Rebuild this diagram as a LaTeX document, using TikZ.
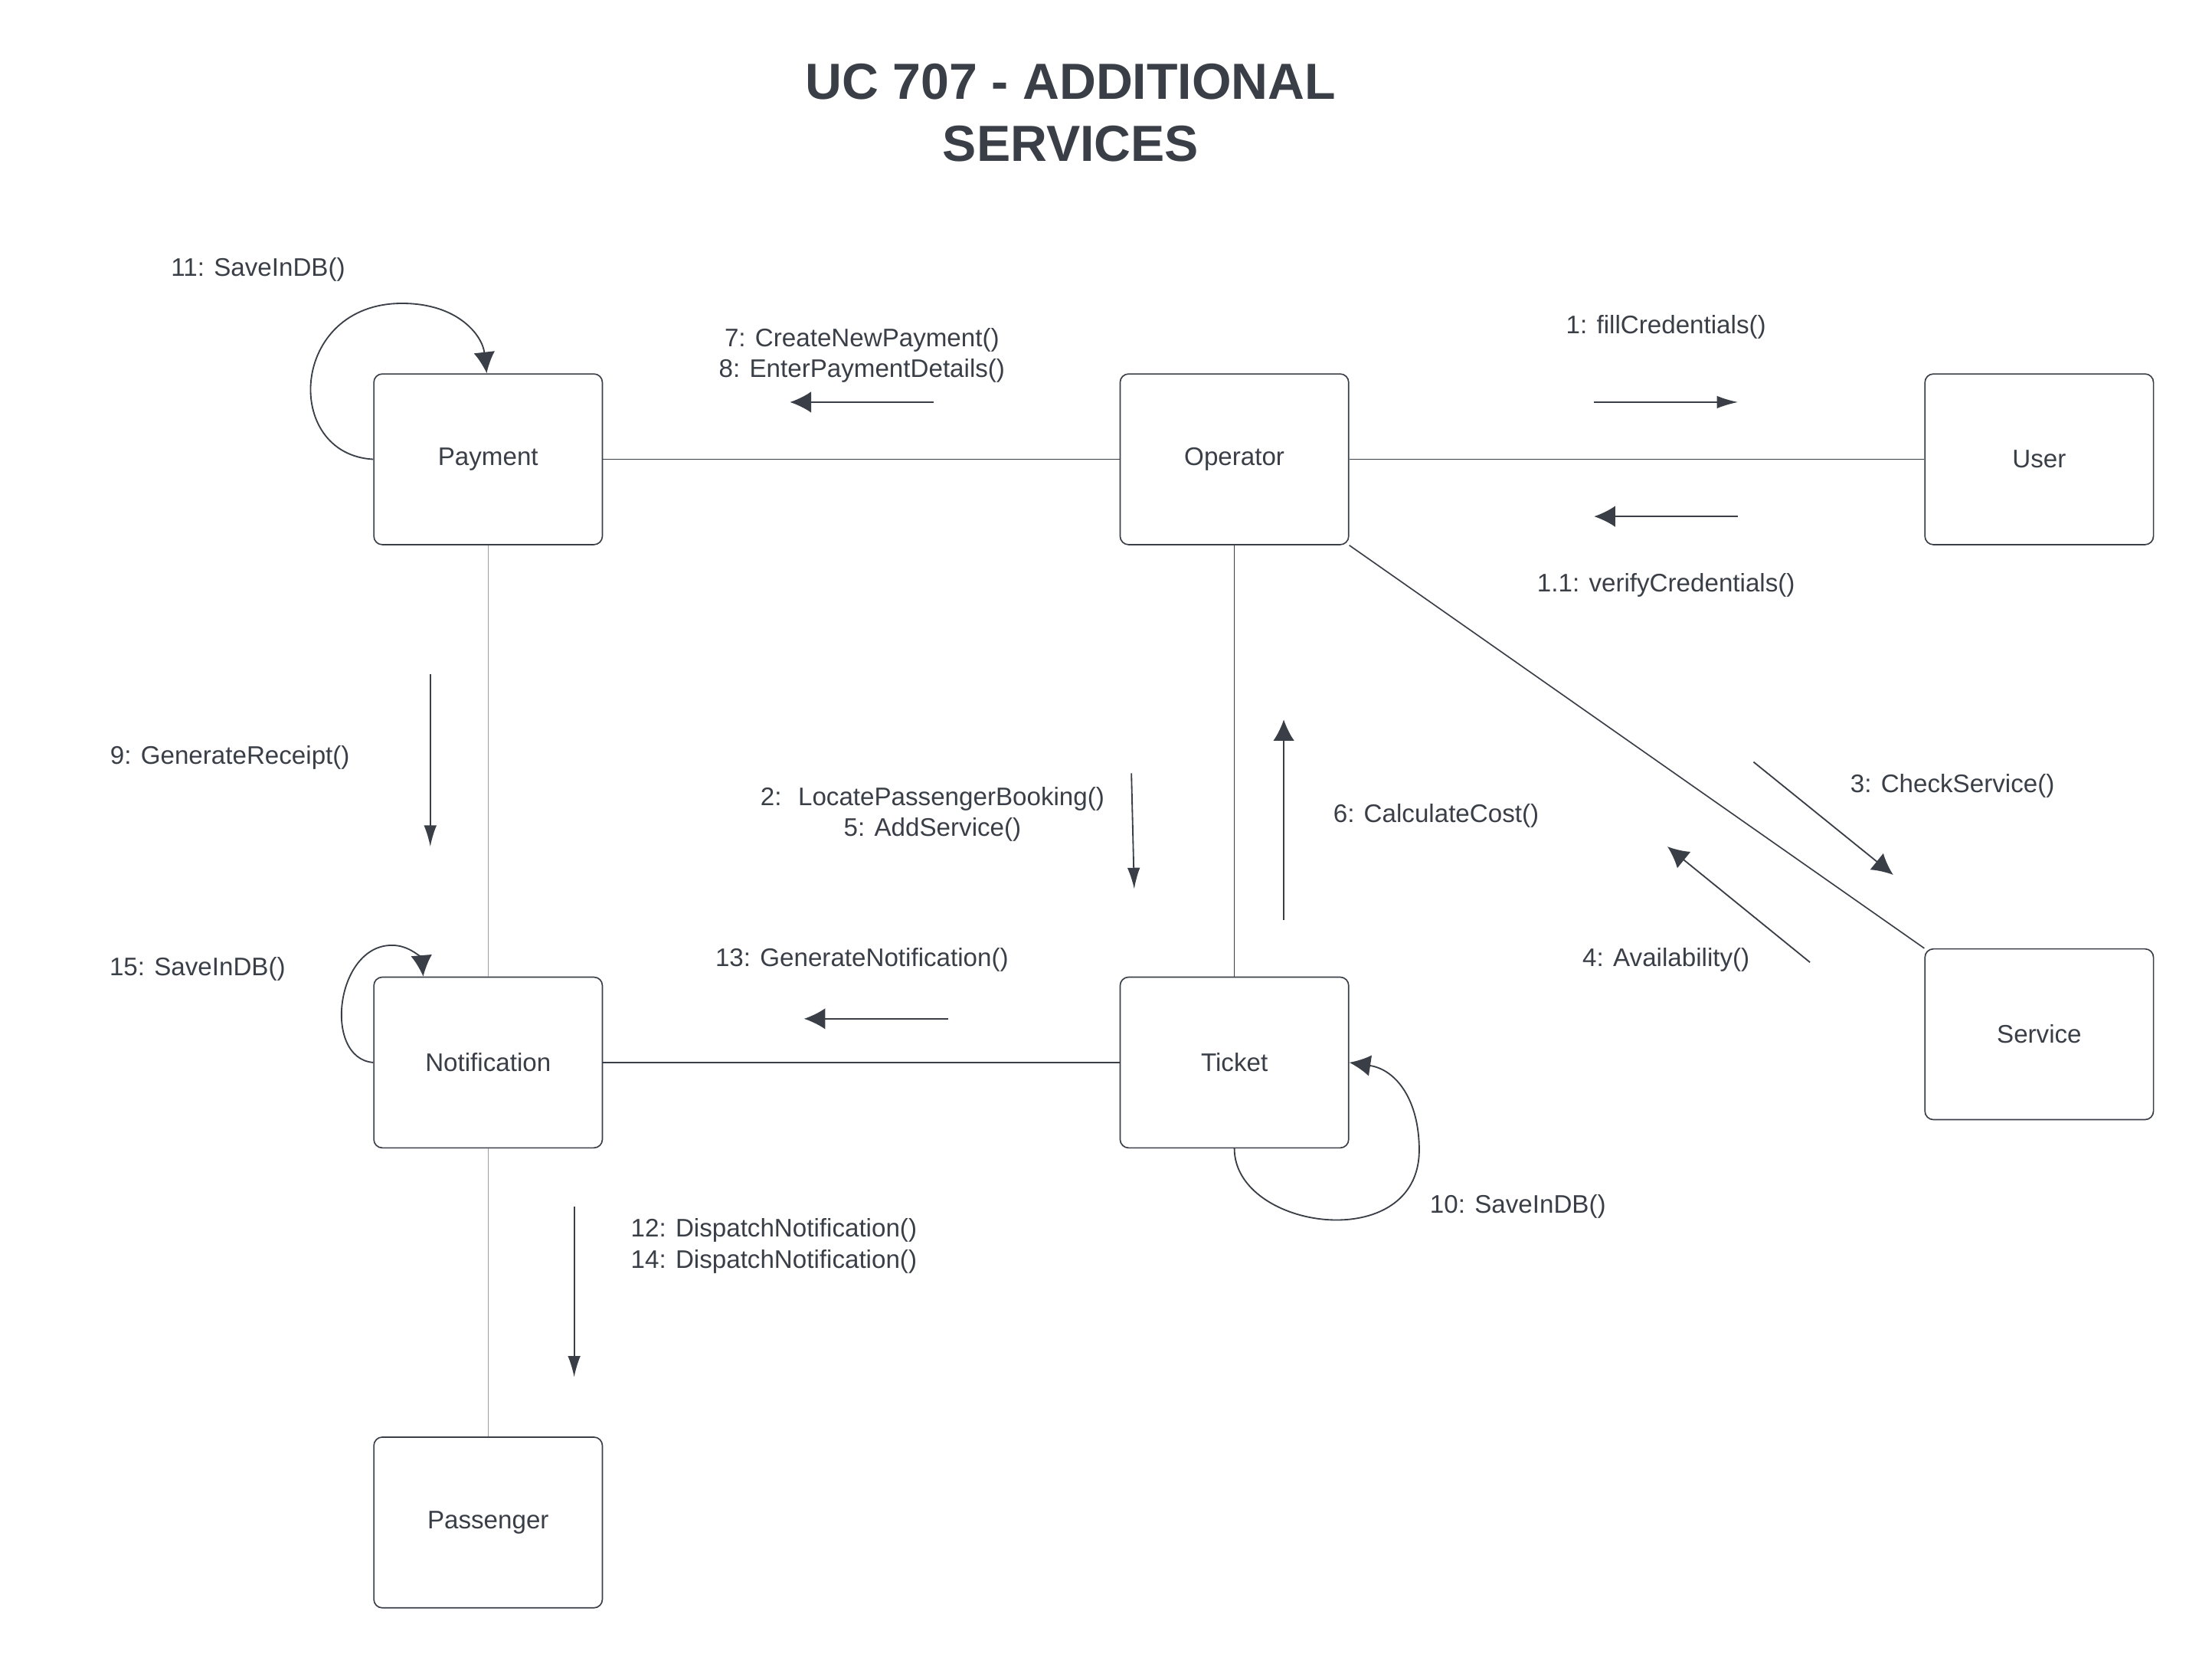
\documentclass[tikz,border=0pt]{standalone}
\usepackage{fontspec}
\setmainfont{Liberation Sans}
\usepackage{tikz}
\usetikzlibrary{shapes.geometric, arrows.meta}
\definecolor{inkgray}{HTML}{3A3F47}
\definecolor{palegray}{HTML}{9A9DA2}
\tikzstyle{object} = [rectangle, rounded corners=6pt, minimum width=162pt, minimum height=121pt, text centered, draw=inkgray, line width=0.9pt, text=inkgray, font=\fontsize{18}{22}\selectfont]
\tikzstyle{msglabel} = [text=inkgray, align=center, inner sep=0pt, font=\fontsize{18}{22}\selectfont]
\tikzstyle{link} = [draw=inkgray, line width=0.9pt]
\tikzstyle{arrow} = [draw=inkgray, line width=1pt, -{Latex[length=15pt,width=15pt]}]
\tikzstyle{thinarrow} = [draw=inkgray, line width=1pt, -{Latex[length=15pt,width=9pt]}]

\begin{document}
\begin{tikzpicture}[x=1pt, y=-1pt, node distance=529pt]
        \useasboundingbox (0,0) rectangle (1568,1181);
        \node (title) [text=inkgray, align=center, font=\fontsize{36}{44}\bfseries] at (759,80) {UC 707 - ADDITIONAL\\SERVICES};

        \node (payment) [object] at (346,325.5) {Payment};
        \node (operator) [object, right of=payment] {Operator};
        \node (user) [object, right of=operator, xshift=41.5pt] {User};
        \node (notification) [object, below of=payment, yshift=101.5pt] {Notification};
        \node (ticket) [object, right of=notification] {Ticket};
        \node (service) [object, below of=user, yshift=121.5pt] {Service};
        \node (passenger) [object, below of=notification, yshift=203pt] {Passenger};

        \draw [link] (payment) -- (operator);
        \draw [link] (operator) -- (user);
        \draw [link] (operator) -- (ticket);
        \draw [link] (notification) -- (ticket);
        \draw [link] (operator.south east) -- (service.north west);
        \draw [draw=palegray, line width=0.7pt] (payment) -- (notification);
        \draw [draw=palegray, line width=0.7pt] (notification) -- (passenger);

        % self messages
        \draw [arrow] (payment.west) .. controls (200,322) and (205,215) .. (285,215) .. controls (325,215) and (342,238) .. ([xshift=-1pt]payment.north);
        \draw [arrow] (notification.west) .. controls (228,750) and (238,667) .. (280,670) .. controls (292,671) and (299,680) .. ([xshift=-46pt]notification.north);
        \draw [arrow] (ticket.south) .. controls (875,872) and (1006,890) .. (1006,815) .. controls (1006,780) and (990,758) .. (ticket.east);

        % messages
        \draw [arrow] (662,285) -- (560,285);
        \draw [thinarrow] (1130,285) -- (1232,285);
        \draw [arrow] (1232,366) -- (1130,366);
        \draw [thinarrow] (305,478) -- (305,600);
        \draw [thinarrow] (802,548) -- (804,630);
        \draw [arrow] (910,652) -- (910,510);
        \draw [arrow] (1243,540) -- (1342,620);
        \draw [arrow] (1283,682) -- (1182,600);
        \draw [arrow] (672,722) -- (570,722);
        \draw [thinarrow] (407,855) -- (407,976);

        \node (l11) [msglabel] at (183,191) {11: SaveInDB()};
        \node (l78) [msglabel] at (611,252) {7: CreateNewPayment()\\8: EnterPaymentDetails()};
        \node (l1) [msglabel] at (1181,232) {1: fillCredentials()};
        \node (l1b) [msglabel] at (1181,415) {1.1: verifyCredentials()};
        \node (l9) [msglabel] at (163,537) {9: GenerateReceipt()};
        \node (l25) [msglabel] at (661,577) {2:~ LocatePassengerBooking()\\5: AddService()};
        \node (l6) [msglabel] at (1018,578) {6: CalculateCost()};
        \node (l3) [msglabel] at (1384,557) {3: CheckService()};
        \node (l4) [msglabel] at (1181,680) {4: Availability()};
        \node (l13) [msglabel] at (611,680) {13: GenerateNotification()};
        \node (l15) [msglabel] at (140,687) {15: SaveInDB()};
        \node (l10) [msglabel] at (1076,855) {10: SaveInDB()};
        \node (l1214) [msglabel, align=left, anchor=west] at (447,883) {12: DispatchNotification()\\14: DispatchNotification()};
    \end{tikzpicture}
\end{document}
